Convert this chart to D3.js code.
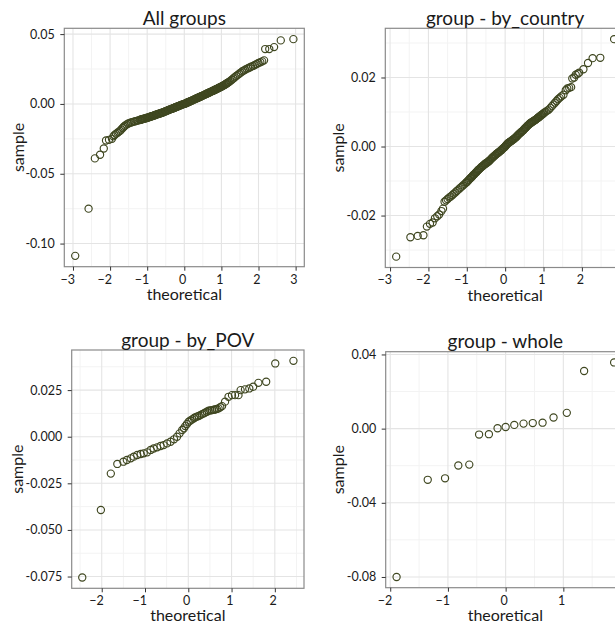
<!DOCTYPE html>
<html><head><meta charset="utf-8">
<script src="https://cdn.jsdelivr.net/npm/d3@7"></script>
<style>
body{margin:0;background:#fff}
svg{display:block}
text{font-family:Lato,"Open Sans",sans-serif;fill:#1a1a1a}
</style>
</head><body>
<svg id="chart" width="615" height="623"></svg>
<script>
// ---------- DATA ----------
const titles = ["All groups", "group - by_country", "group - by_POV", "group - whole"];
const xAxisTitle = "theoretical";
const yAxisTitle = "sample";

// Panel 1: All groups
const allTheo = [-2.94,-2.58,-2.41,-2.27,-2.17,-2.11,-2.03,
 -1.95,-1.91,-1.88,-1.84,-1.80,-1.77,-1.73,-1.70,-1.66,-1.63,-1.60,-1.56,-1.52,-1.48,-1.44,-1.40,-1.36,-1.32,-1.28,-1.24,-1.20,-1.16,-1.12,-1.08,-1.04,-1.00,
 -0.96,-0.92,-0.88,-0.84,-0.80,-0.76,-0.72,-0.68,-0.64,-0.60,-0.56,-0.52,-0.48,-0.44,-0.40,-0.36,-0.32,-0.28,-0.24,-0.20,-0.16,-0.12,-0.08,-0.04,
 0.00,0.04,0.08,0.12,0.16,0.20,0.24,0.28,0.32,0.36,0.40,0.44,0.48,0.52,0.56,0.60,0.64,0.68,0.72,0.76,0.80,0.84,0.88,0.92,0.96,
 1.00,1.04,1.08,1.12,1.16,1.20,1.24,1.28,1.32,1.36,1.40,1.44,1.48,1.52,1.56,1.60,1.64,1.68,1.72,1.76,1.80,1.85,1.90,1.95,2.00,2.05,2.10,2.15,
 2.18,2.29,2.42,2.60,2.94,
 // dense core of the band
 -1.18,-1.14,-1.10,-1.06,-1.02,-0.98,-0.94,-0.90,-0.86,-0.82,-0.78,-0.74,-0.70,-0.66,-0.62,-0.58,-0.54,-0.50,-0.46,-0.42,-0.38,-0.34,-0.30,-0.26,-0.22,-0.18,-0.14,-0.10,-0.06,-0.02,
 0.02,0.06,0.10,0.14,0.18,0.22,0.26,0.30,0.34,0.38,0.42,0.46,0.50,0.54,0.58,0.62,0.66,0.70,0.74,0.78,0.82,0.86,0.90,0.94,0.98,1.02,1.06,1.10,1.14,1.18];
const allSample = [-0.1088,-0.0750,-0.0390,-0.0364,-0.0319,-0.0262,-0.0257,
 -0.0250,-0.0232,-0.0223,-0.0214,-0.0206,-0.0200,-0.0193,-0.0183,-0.0172,-0.0163,-0.0156,-0.0148,-0.0142,-0.0137,-0.0133,-0.0130,-0.0127,-0.0124,-0.0121,-0.0118,-0.0115,-0.0111,-0.0108,-0.0105,-0.0102,-0.0099,
 -0.0096,-0.0092,-0.0088,-0.0085,-0.0081,-0.0077,-0.0073,-0.0070,-0.0066,-0.0063,-0.0059,-0.0054,-0.0050,-0.0045,-0.0041,-0.0037,-0.0033,-0.0029,-0.0024,-0.0020,-0.0016,-0.0011,-0.0007,-0.0003,
 0.0000,0.0005,0.0010,0.0014,0.0019,0.0024,0.0029,0.0034,0.0039,0.0043,0.0048,0.0053,0.0058,0.0063,0.0068,0.0073,0.0078,0.0083,0.0088,0.0093,0.0098,0.0103,0.0108,0.0114,0.0119,
 0.0124,0.0130,0.0136,0.0143,0.0150,0.0157,0.0164,0.0173,0.0182,0.0191,0.0200,0.0208,0.0216,0.0224,0.0232,0.0239,0.0245,0.0251,0.0256,0.0261,0.0266,0.0272,0.0279,0.0286,0.0293,0.0299,0.0305,0.0312,
 0.0393,0.0393,0.0407,0.0455,0.0464,
 -0.0113,-0.0110,-0.0107,-0.0104,-0.0101,-0.0098,-0.0094,-0.0090,-0.0087,-0.0083,-0.0079,-0.0075,-0.0072,-0.0068,-0.0065,-0.0061,-0.0057,-0.0052,-0.0048,-0.0043,-0.0039,-0.0035,-0.0031,-0.0027,-0.0022,-0.0018,-0.0014,-0.0009,-0.0005,-0.0001,
 0.0002,0.0007,0.0012,0.0017,0.0021,0.0026,0.0031,0.0036,0.0041,0.0046,0.0050,0.0055,0.0060,0.0065,0.0070,0.0075,0.0080,0.0085,0.0090,0.0095,0.0100,0.0105,0.0111,0.0116,0.0121,0.0127,0.0133,0.0139,0.0146,0.0153];

// Panel 2: by_country
const countryTheo = [-2.84,-2.47,-2.28,-2.13,-2.04,-1.96,-1.89,-1.83,-1.77,-1.72,-1.66,-1.62,
 -1.58,-1.54,-1.50,-1.46,-1.42,-1.38,-1.34,-1.30,-1.26,-1.22,-1.18,-1.14,-1.10,-1.06,-1.02,
 -0.98,-0.94,-0.90,-0.86,-0.82,-0.78,-0.74,-0.70,-0.66,-0.62,-0.58,-0.54,-0.50,-0.46,-0.42,-0.38,-0.34,-0.30,-0.26,-0.22,-0.18,-0.14,-0.10,-0.06,-0.02,
 0.02,0.06,0.10,0.14,0.18,0.22,0.26,0.30,0.34,0.38,0.42,0.46,0.50,0.54,0.58,0.62,0.66,0.70,0.74,0.78,0.82,0.86,0.90,0.94,0.98,
 1.02,1.06,1.10,1.14,1.18,1.22,1.26,1.30,1.34,1.38,1.42,1.46,1.52,1.58,1.62,1.67,1.72,1.75,1.80,1.84,1.89,1.93,2.04,2.16,2.28,2.48,2.84,
 // dense core of the band
 -1.00,-0.96,-0.92,-0.88,-0.84,-0.80,-0.76,-0.72,-0.68,-0.64,-0.60,-0.56,-0.52,-0.48,-0.44,-0.40,-0.36,-0.32,-0.28,-0.24,-0.20,-0.16,-0.12,-0.08,-0.04,
 0.00,0.04,0.08,0.12,0.16,0.20,0.24,0.28,0.32,0.36,0.40,0.44,0.48,0.52,0.56,0.60,0.64,0.68,0.72,0.76,0.80,0.84,0.88,0.92,0.96,1.00];
const countrySample = [-0.0319,-0.0263,-0.0259,-0.0257,-0.0232,-0.0224,-0.0220,-0.0208,-0.0202,-0.0197,-0.0187,-0.0180,
 -0.0160,-0.0156,-0.0152,-0.0148,-0.0145,-0.0141,-0.0137,-0.0133,-0.0129,-0.0125,-0.0121,-0.0117,-0.0113,-0.0109,-0.0105,
 -0.0101,-0.0096,-0.0091,-0.0087,-0.0082,-0.0077,-0.0073,-0.0068,-0.0064,-0.0059,-0.0056,-0.0052,-0.0049,-0.0046,-0.0042,-0.0038,-0.0033,-0.0029,-0.0025,-0.0021,-0.0018,-0.0014,-0.0011,-0.0006,-0.0002,
 0.0003,0.0008,0.0012,0.0015,0.0018,0.0021,0.0025,0.0029,0.0034,0.0038,0.0042,0.0046,0.0051,0.0055,0.0060,0.0064,0.0068,0.0071,0.0074,0.0077,0.0080,0.0084,0.0087,0.0091,0.0094,
 0.0098,0.0101,0.0104,0.0107,0.0112,0.0117,0.0122,0.0127,0.0132,0.0137,0.0141,0.0145,0.0150,0.0163,0.0168,0.0170,0.0172,0.0197,0.0200,0.0208,0.0211,0.0214,0.0224,0.0242,0.0256,0.0257,0.0311,
 -0.0103,-0.0098,-0.0093,-0.0089,-0.0084,-0.0080,-0.0075,-0.0070,-0.0066,-0.0062,-0.0058,-0.0054,-0.0050,-0.0047,-0.0044,-0.0040,-0.0035,-0.0031,-0.0027,-0.0023,-0.0019,-0.0016,-0.0012,-0.0008,-0.0004,
 0.0000,0.0005,0.0010,0.0013,0.0016,0.0020,0.0023,0.0027,0.0031,0.0036,0.0040,0.0044,0.0048,0.0053,0.0057,0.0062,0.0066,0.0069,0.0072,0.0075,0.0078,0.0082,0.0085,0.0089,0.0092,0.0096];

// Panel 3: by_POV
const povTheo = [-2.45,-2.02,-1.79,-1.64,-1.50,-1.42,-1.33,-1.26,-1.18,-1.10,-1.03,-0.95,-0.87,-0.80,-0.72,-0.64,-0.57,-0.49,-0.41,-0.33,-0.26,
 -0.20,-0.14,-0.10,-0.07,-0.03,0.01,0.05,0.09,0.13,0.16,0.20,0.24,0.28,0.32,0.36,0.39,0.43,0.47,0.51,0.55,0.59,0.62,0.66,0.70,0.74,0.78,0.85,0.93,1.01,1.08,1.16,1.21,1.31,1.41,1.50,1.62,1.80,2.01,2.43];
const povSample = [-0.0755,-0.0393,-0.0198,-0.0146,-0.0134,-0.0125,-0.0116,-0.0107,-0.0098,-0.0093,-0.0089,-0.0084,-0.0071,-0.0063,-0.0057,-0.0050,-0.0045,-0.0036,-0.0027,-0.0014,0.0000,
 0.0018,0.0036,0.0045,0.0057,0.0068,0.0080,0.0087,0.0093,0.0099,0.0104,0.0108,0.0111,0.0116,0.0121,0.0125,0.0129,0.0134,0.0139,0.0141,0.0143,0.0145,0.0146,0.0149,0.0152,0.0158,0.0164,0.0188,0.0214,0.0223,0.0223,0.0223,0.0250,0.0254,0.0259,0.0268,0.0289,0.0295,0.0393,0.0407];

// Panel 4: whole
const wholeTheo = [-1.89,-1.35,-1.05,-0.82,-0.63,-0.46,-0.29,-0.14,0.00,0.15,0.31,0.47,0.64,0.83,1.06,1.36,1.88];
const wholeSample = [-0.0800,-0.0276,-0.0268,-0.0199,-0.0194,-0.0032,-0.0030,0.0002,0.0009,0.0020,0.0027,0.0030,0.0032,0.0060,0.0085,0.0311,0.0357];

// tick values and labels
const xTicks1 = [-3,-2,-1,0,1,2,3];
const yTicks1 = [-0.10,-0.05,0.00,0.05];
const yLabels1 = ["-0.10","-0.05","0.00","0.05"];
const xTicks2 = [-3,-2,-1,0,1,2,3];
const yTicks2 = [-0.02,0.00,0.02];
const yLabels2 = ["-0.02","0.00","0.02"];
const xTicks3 = [-2,-1,0,1,2];
const yTicks3 = [-0.075,-0.050,-0.025,0.000,0.025];
const yLabels3 = ["-0.075","-0.050","-0.025","0.000","0.025"];
const xTicks4 = [-2,-1,0,1,2];
const yTicks4 = [-0.08,-0.04,0.00,0.04];
const yLabels4 = ["-0.08","-0.04","0.00","0.04"];

// ---------- DRAWING ----------
const svg = d3.select("#chart");
svg.append("rect").attr("width",615).attr("height",623).attr("fill","#fff");

const pointStroke = "#3f4720";
const FONT = 'Lato,"Open Sans",sans-serif';

function expand(ext){ const r = ext[1]-ext[0]; return [ext[0]-0.05*r, ext[1]+0.05*r]; }

function minorTicks(major, domain){
  const step = major[1]-major[0];
  const out = [];
  for (let i=-1;i<major.length;i++){
    const m = major[0] + (i+0.5)*step;
    if (m>domain[0] && m<domain[1]) out.push(m);
  }
  return out;
}

function panel(opt){
  const {box, xs, ys, xTicks, yTicks, yLabels, title, yTitleX} = opt;
  const x = d3.scaleLinear().domain(expand(d3.extent(xs))).range([box.l, box.r]);
  const y = d3.scaleLinear().domain(expand(d3.extent(ys))).range([box.b, box.t]);
  const g = svg.append("g");
  const clipId = "clip" + Math.round(box.l) + "_" + Math.round(box.t);
  g.append("clipPath").attr("id", clipId).append("rect")
    .attr("x", box.l).attr("y", box.t).attr("width", box.r-box.l).attr("height", box.b-box.t);
  const inner = g.append("g").attr("clip-path", `url(#${clipId})`);
  // minor grid
  inner.selectAll(".mx").data(minorTicks(xTicks, x.domain())).join("line")
    .attr("x1", d=>x(d)).attr("x2", d=>x(d)).attr("y1", box.t).attr("y2", box.b)
    .attr("stroke", "#f3f3f3").attr("stroke-width", 1);
  inner.selectAll(".my").data(minorTicks(yTicks, y.domain())).join("line")
    .attr("y1", d=>y(d)).attr("y2", d=>y(d)).attr("x1", box.l).attr("x2", box.r)
    .attr("stroke", "#f3f3f3").attr("stroke-width", 1);
  // major grid
  inner.selectAll(".gx").data(xTicks).join("line")
    .attr("x1", d=>x(d)).attr("x2", d=>x(d)).attr("y1", box.t).attr("y2", box.b)
    .attr("stroke", "#e4e4e4").attr("stroke-width", 1.1);
  inner.selectAll(".gy").data(yTicks).join("line")
    .attr("y1", d=>y(d)).attr("y2", d=>y(d)).attr("x1", box.l).attr("x2", box.r)
    .attr("stroke", "#e4e4e4").attr("stroke-width", 1.1);
  // points
  inner.selectAll("circle").data(xs.map((v,i)=>[v, ys[i]])).join("circle")
    .attr("cx", d=>x(d[0])).attr("cy", d=>y(d[1])).attr("r", 3.6)
    .attr("fill", "none").attr("stroke", pointStroke).attr("stroke-width", 1.15);
  // border
  g.append("rect").attr("x", box.l).attr("y", box.t).attr("width", box.r-box.l).attr("height", box.b-box.t)
    .attr("fill", "none").attr("stroke", "#8a8a8a").attr("stroke-width", 1.2);
  // axes ticks
  const xAxis = d3.axisBottom(x).tickValues(xTicks).tickSize(4).tickFormat(d3.format("d"));
  const ax = g.append("g").attr("transform", `translate(0,${box.b})`).call(xAxis);
  ax.select(".domain").remove();
  ax.selectAll(".tick line").attr("stroke", "#333");
  ax.selectAll(".tick text").attr("font-size", 12.5).attr("fill", "#1a1a1a")
    .attr("text-anchor", "end").attr("x", 1.5).attr("y", 8).attr("dy", "0.71em")
    .style("font-family", FONT);
  const yAxis = d3.axisLeft(y).tickValues(yTicks).tickSize(4).tickFormat((d,i)=>yLabels[i]);
  const ay = g.append("g").attr("transform", `translate(${box.l},0)`).call(yAxis);
  ay.select(".domain").remove();
  ay.selectAll(".tick line").attr("stroke", "#333");
  ay.selectAll(".tick text").attr("font-size", 12.5).attr("fill", "#1a1a1a").attr("x", -9.5)
    .style("font-family", FONT);
  // titles
  g.append("text").attr("x", (box.l+box.r)/2).attr("y", box.t-3.5).attr("text-anchor","middle")
    .attr("font-size", 19).text(title);
  g.append("text").attr("x", (box.l+box.r)/2).attr("y", box.b+33).attr("text-anchor","middle")
    .attr("font-size", 16).text(xAxisTitle);
  g.append("text").attr("transform", `translate(${yTitleX},${(box.t+box.b)/2}) rotate(-90)`)
    .attr("text-anchor","middle").attr("dy","0.35em").attr("font-size", 16).text(yAxisTitle);
}

panel({box:{l:64.3,r:304.3,t:28.3,b:266.7}, xs:allTheo, ys:allSample, xTicks:xTicks1, yTicks:yTicks1, yLabels:yLabels1, title:titles[0], yTitleX:18});
panel({box:{l:385.3,r:625,t:28.3,b:267.5}, xs:countryTheo, ys:countrySample, xTicks:xTicks2, yTicks:yTicks2, yLabels:yLabels2, title:titles[1], yTitleX:338});
panel({box:{l:71.7,r:304,t:350,b:588.3}, xs:povTheo, ys:povSample, xTicks:xTicks3, yTicks:yTicks3, yLabels:yLabels3, title:titles[2], yTitleX:17});
panel({box:{l:385.7,r:625,t:351.7,b:587.7}, xs:wholeTheo, ys:wholeSample, xTicks:xTicks4, yTicks:yTicks4, yLabels:yLabels4, title:titles[3], yTitleX:338});
</script>
</body></html>
